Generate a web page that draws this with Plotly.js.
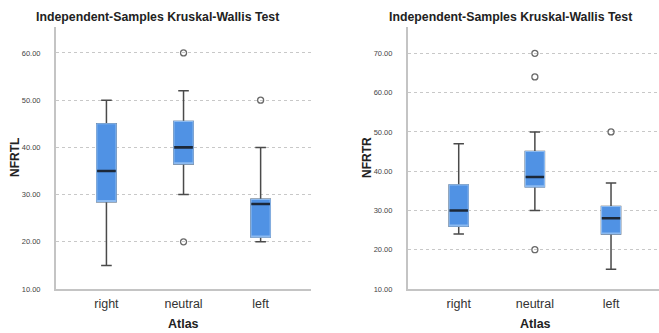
<!DOCTYPE html>
<html>
<head>
<meta charset="utf-8">
<script src="https://cdn.plot.ly/plotly-3.0.1.min.js"></script>
<style>html,body{margin:0;padding:0;background:#fff;}#chart{width:659px;height:333px;}</style>
</head>
<body>
<div id="chart"></div>
<script>
// ---- Data ----
const categories = ["right", "neutral", "left"];

// NFRTL (left chart)
const L_lowerfence = [15, 30, 20];
const L_q1         = [28.5, 36.5, 21];
const L_median     = [35, 40, 28];
const L_q3         = [45, 45.5, 29];
const L_upperfence = [50, 52, 40];
const L_outlierX   = ["neutral", "neutral", "left"];
const L_outlierY   = [60, 20, 50];

// NFRTR (right chart)
const R_lowerfence = [24, 30, 15];
const R_q1         = [26, 36, 24];
const R_median     = [30, 38.5, 28];
const R_q3         = [36.5, 45, 31];
const R_upperfence = [47, 50, 37];
const R_outlierX   = ["neutral", "neutral", "neutral", "left"];
const R_outlierY   = [70, 64, 20, 50];

const L_ticks = [10, 20, 30, 40, 50, 60];
const R_ticks = [10, 20, 30, 40, 50, 60, 70];
const fmt = v => v.toFixed(2);

// ---- Styles ----
const FILL = "#5092e4";
const EDGE = "#8cbaf0";
const WHISK = "#4a4a4a";
const MED = "#1c2838";
const BW = 0.25;

function boxSet(xa, ya, lf, q1, med, q3, uf, ox, oy) {
  return [
    { // whiskers + caps
      type: "box", xaxis: xa, yaxis: ya, x: categories,
      q1: q1, median: med, q3: q3, lowerfence: lf, upperfence: uf,
      width: BW, whiskerwidth: 0.55, fillcolor: FILL,
      line: {color: WHISK, width: 1.5}, boxpoints: false, hoverinfo: "skip", showlegend: false
    },
    { // box body with light outline
      type: "box", xaxis: xa, yaxis: ya, x: categories,
      q1: q1, median: q1, q3: q3, lowerfence: q1, upperfence: q3,
      width: BW, whiskerwidth: 0, fillcolor: FILL,
      line: {color: EDGE, width: 1.2}, boxpoints: false, hoverinfo: "skip", showlegend: false
    },
    { // median line
      type: "box", xaxis: xa, yaxis: ya, x: categories,
      q1: med, median: med, q3: med, lowerfence: med, upperfence: med,
      width: BW * 0.97, whiskerwidth: 0, fillcolor: MED,
      line: {color: MED, width: 2.6}, boxpoints: false, hoverinfo: "skip", showlegend: false
    },
    { // outliers
      type: "scatter", mode: "markers", xaxis: xa, yaxis: ya, x: ox, y: oy,
      marker: {symbol: "circle-open", size: 6, color: "#6a6a6a", line: {width: 1.3}},
      hoverinfo: "skip", showlegend: false
    }
  ];
}

const data = [].concat(
  boxSet("x", "y", L_lowerfence, L_q1, L_median, L_q3, L_upperfence, L_outlierX, L_outlierY),
  boxSet("x2", "y2", R_lowerfence, R_q1, R_median, R_q3, R_upperfence, R_outlierX, R_outlierY)
);

const FONT = "Liberation Sans, Arial, sans-serif";
const xCommon = {
  type: "category", categoryorder: "array", categoryarray: categories,
  showgrid: false, zeroline: false, showline: true, linecolor: "#c4c4c4", linewidth: 2,
  ticks: "", tickfont: {family: FONT, size: 12.5, color: "#333"}, ticklabelstandoff: 2,
  fixedrange: true
};
const yCommon = {
  showgrid: true, gridcolor: "#c8c8c8", griddash: "dot", gridwidth: 1,
  zeroline: false, showline: true, linecolor: "#c4c4c4", linewidth: 2,
  ticks: "", tickfont: {family: FONT, size: 7.5, color: "#444"}, ticklabelstandoff: 12,
  fixedrange: true
};

const layout = {
  width: 659, height: 333,
  margin: {l: 0, r: 0, t: 27, b: 44},
  paper_bgcolor: "#fff", plot_bgcolor: "#fff",
  showlegend: false, boxmode: "overlay",
  xaxis: Object.assign({}, xCommon, {domain: [0.085, 0.472], range: [-0.654, 2.654], anchor: "y"}),
  yaxis: Object.assign({}, yCommon, {range: [10, 65.5], tickvals: L_ticks, ticktext: L_ticks.map(fmt), anchor: "x"}),
  xaxis2: Object.assign({}, xCommon, {domain: [0.619, 1.0], range: [-0.667, 2.63], anchor: "y2"}),
  yaxis2: Object.assign({}, yCommon, {range: [10, 76.7], tickvals: R_ticks, ticktext: R_ticks.map(fmt), anchor: "x2"}),
  annotations: [
    {text: "<b>Independent-Samples Kruskal-Wallis Test</b>", xref: "paper", yref: "paper", x: 157/659, y: 1 + 10/262, xanchor: "center", yanchor: "middle", showarrow: false, font: {family: FONT, size: 12.3, color: "#222"}},
    {text: "<b>Independent-Samples Kruskal-Wallis Test</b>", xref: "paper", yref: "paper", x: 510/659, y: 1 + 10/262, xanchor: "center", yanchor: "middle", showarrow: false, font: {family: FONT, size: 12.3, color: "#222"}},
    {text: "<b>NFRTL</b>", xref: "paper", yref: "paper", x: 15/659, y: 0.5, textangle: -90, xanchor: "center", yanchor: "middle", showarrow: false, font: {family: FONT, size: 12, color: "#222"}},
    {text: "<b>NFRTR</b>", xref: "paper", yref: "paper", x: 367/659, y: 0.5, textangle: -90, xanchor: "center", yanchor: "middle", showarrow: false, font: {family: FONT, size: 12, color: "#222"}},
    {text: "<b>Atlas</b>", xref: "paper", yref: "paper", x: 183/659, y: -35/262, xanchor: "center", yanchor: "middle", showarrow: false, font: {family: FONT, size: 12.5, color: "#222"}},
    {text: "<b>Atlas</b>", xref: "paper", yref: "paper", x: 535/659, y: -35/262, xanchor: "center", yanchor: "middle", showarrow: false, font: {family: FONT, size: 12.5, color: "#222"}}
  ]
};

Plotly.newPlot("chart", data, layout, {staticPlot: true, displayModeBar: false});
</script>
</body>
</html>
